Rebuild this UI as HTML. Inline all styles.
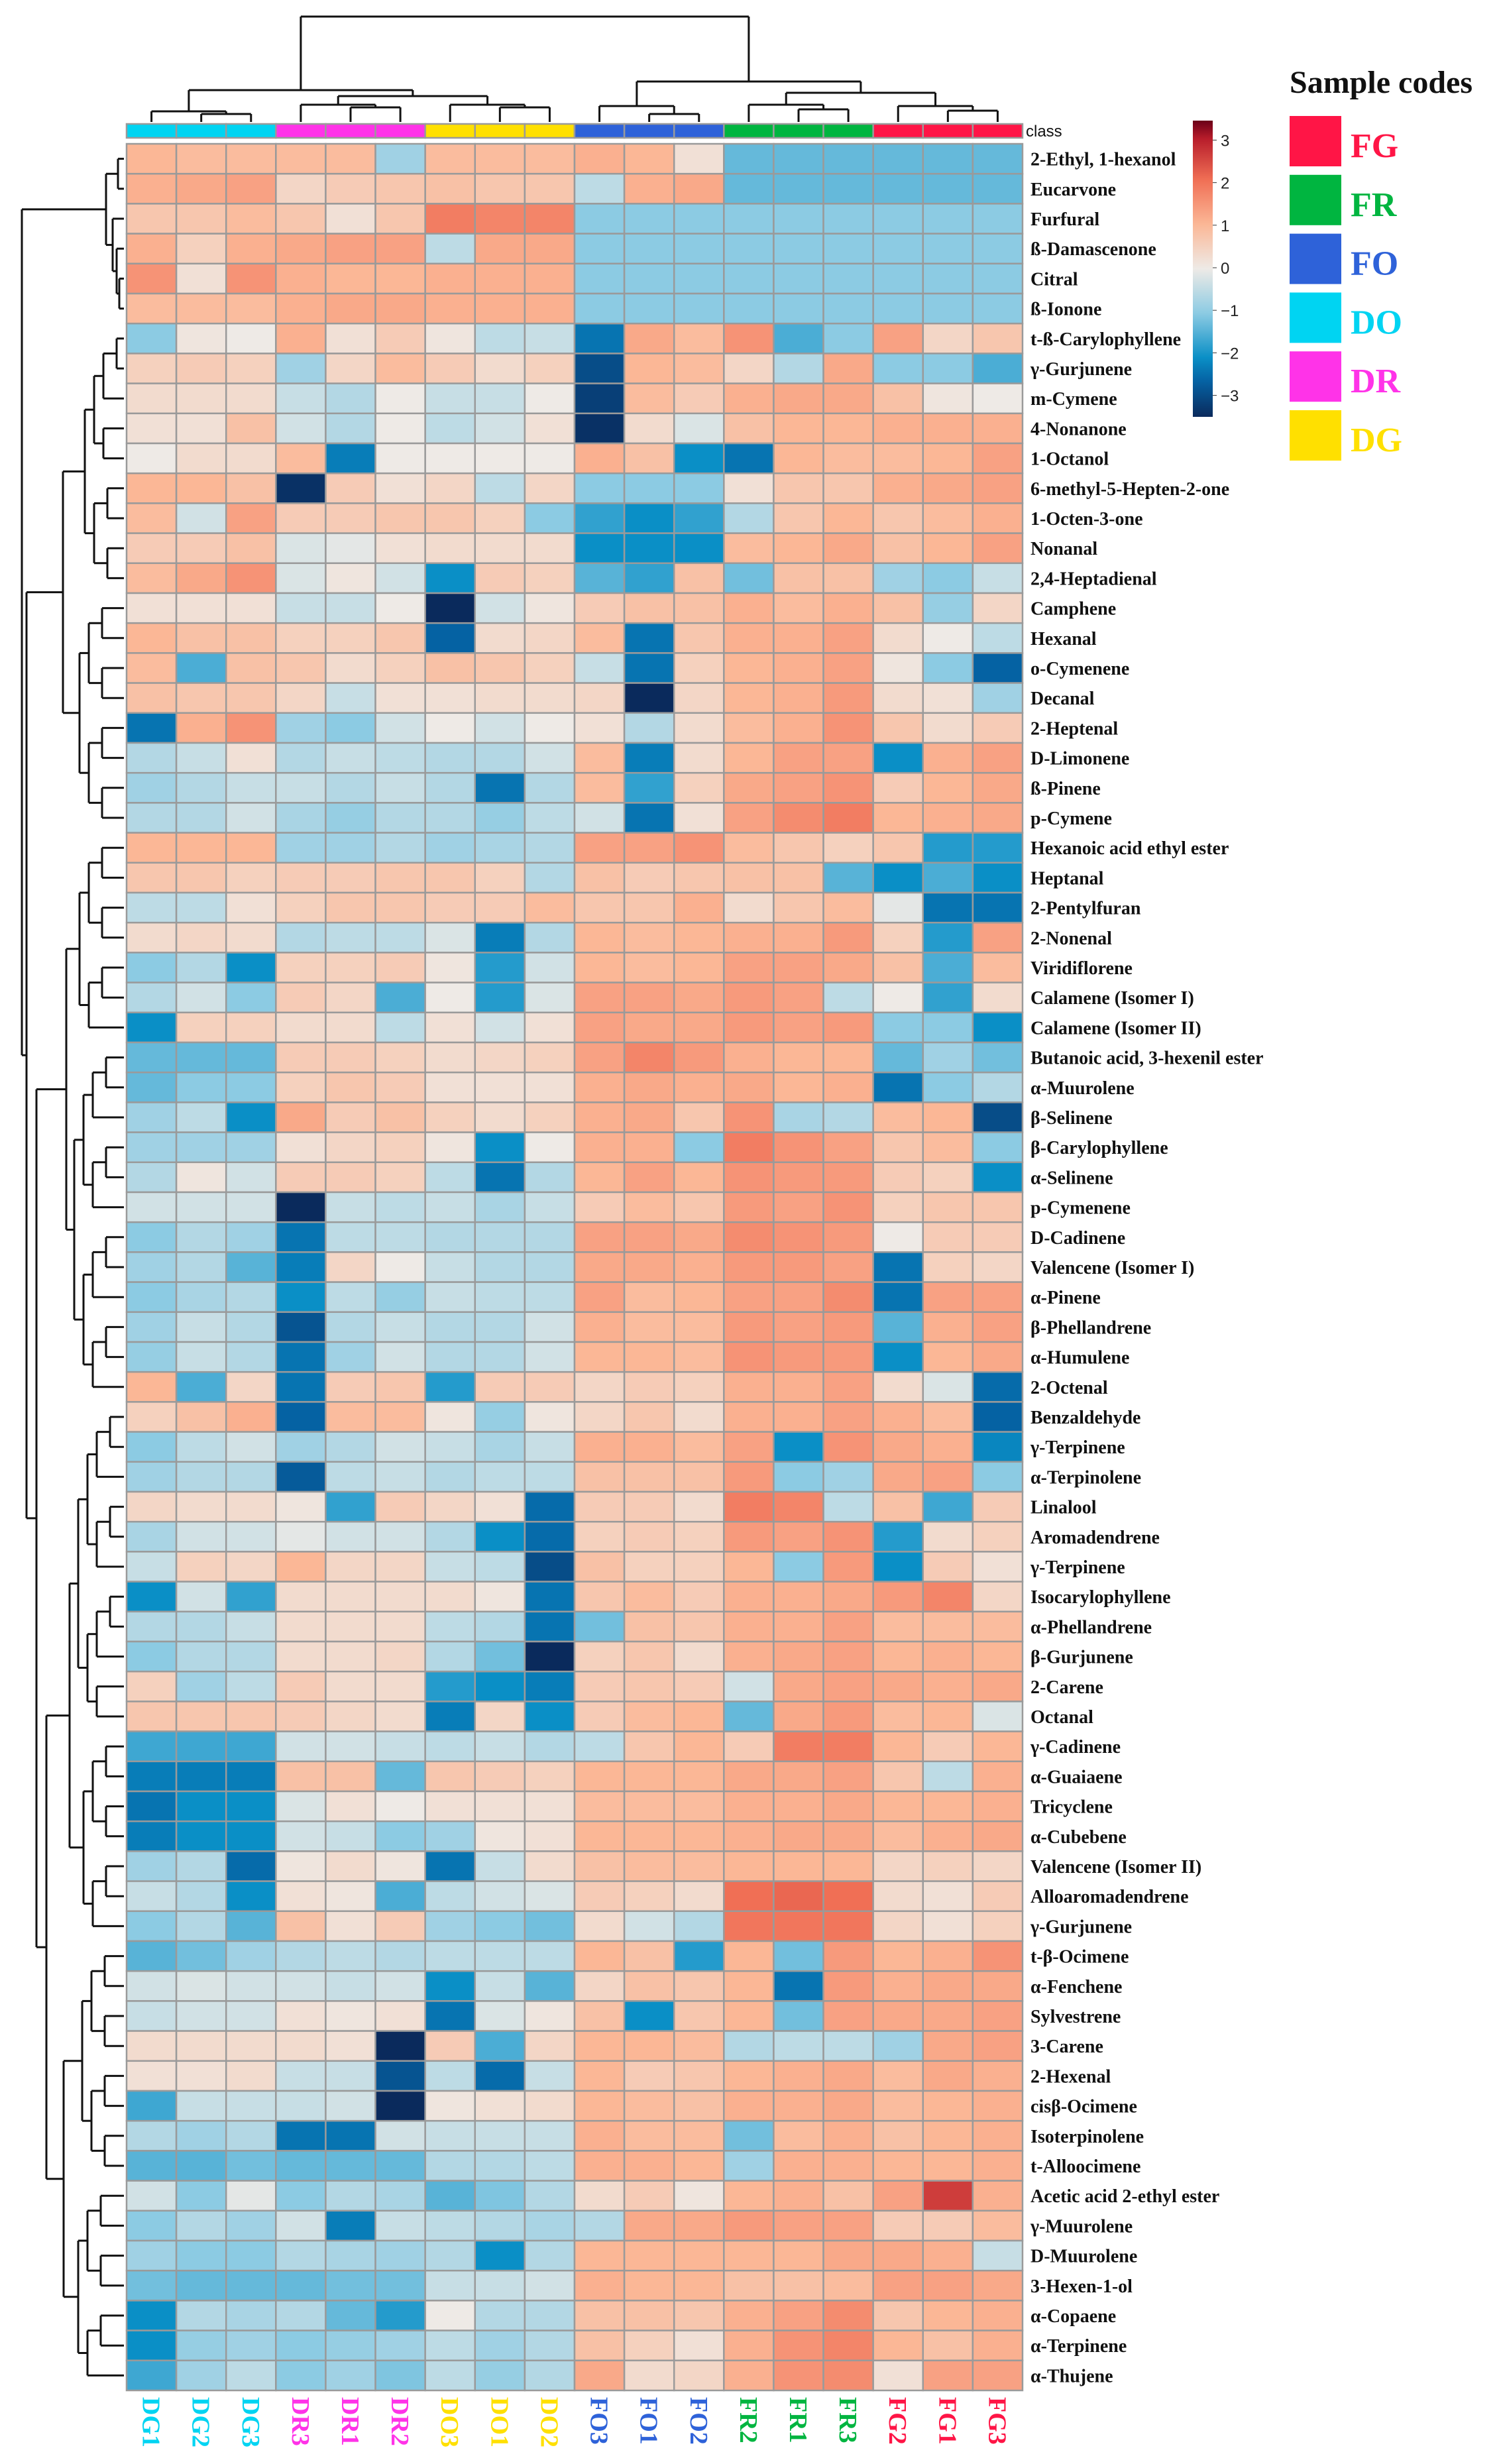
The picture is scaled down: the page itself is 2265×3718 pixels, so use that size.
<!DOCTYPE html>
<html><head><meta charset="utf-8">
<style>
html,body{margin:0;padding:0;background:#fff;}
svg{display:block;}
</style></head>
<body>
<svg id="chart" xmlns="http://www.w3.org/2000/svg" width="2265" height="3718" viewBox="0 0 2265 3718">
  <g id="coldendro"></g>
  <g id="rowdendro"></g>
  <g id="classbar"></g>
  <g id="cells"></g>
  <g id="rowlabels"></g>
  <g id="collabels"></g>
  <text x="1548" y="206" font-family="Liberation Sans, sans-serif" font-size="24" fill="#111">class</text>
  <defs>
    <linearGradient id="cbgrad" x1="0" y1="1" x2="0" y2="0">
      <stop offset="0" stop-color="#0a2a5c"/>
      <stop offset="0.12" stop-color="#0562a3"/>
      <stop offset="0.20" stop-color="#0a8fc6"/>
      <stop offset="0.35" stop-color="#8ccbe3"/>
      <stop offset="0.50" stop-color="#eeeae6"/>
      <stop offset="0.65" stop-color="#fbb796"/>
      <stop offset="0.80" stop-color="#f06f55"/>
      <stop offset="0.94" stop-color="#b71c2a"/>
      <stop offset="1" stop-color="#6b0018"/>
    </linearGradient>
  </defs>
  <g>
    <rect x="1800" y="182" width="30" height="447" fill="url(#cbgrad)"/>
    <g id="cbticks" font-family="Liberation Sans, sans-serif" font-size="24" fill="#222"></g>
  </g>
  <g font-family="Liberation Serif, serif" font-weight="bold">
    <text x="1946" y="140" font-size="48" fill="#111">Sample codes</text>
    <g id="legendentries"></g>
  </g>
</svg>
<script>
const NS = 'http://www.w3.org/2000/svg';
const columns = ['DG1','DG2','DG3','DR3','DR1','DR2','DO3','DO1','DO2','FO3','FO1','FO2','FR2','FR1','FR3','FG2','FG1','FG3'];
const columnGroups = ['DG','DG','DG','DR','DR','DR','DO','DO','DO','FO','FO','FO','FR','FR','FR','FG','FG','FG'];
const compounds = ['2-Ethyl, 1-hexanol','Eucarvone','Furfural','ß-Damascenone','Citral','ß-Ionone','t-ß-Carylophyllene','γ-Gurjunene','m-Cymene','4-Nonanone','1-Octanol','6-methyl-5-Hepten-2-one','1-Octen-3-one','Nonanal','2,4-Heptadienal','Camphene','Hexanal','o-Cymenene','Decanal','2-Heptenal','D-Limonene','ß-Pinene','p-Cymene','Hexanoic acid ethyl ester','Heptanal','2-Pentylfuran','2-Nonenal','Viridiflorene','Calamene (Isomer I)','Calamene (Isomer II)','Butanoic acid, 3-hexenil ester','α-Muurolene','β-Selinene','β-Carylophyllene','α-Selinene','p-Cymenene','D-Cadinene','Valencene (Isomer I)','α-Pinene','β-Phellandrene','α-Humulene','2-Octenal','Benzaldehyde','γ-Terpinene','α-Terpinolene','Linalool','Aromadendrene','γ-Terpinene','Isocarylophyllene','α-Phellandrene','β-Gurjunene','2-Carene','Octanal','γ-Cadinene','α-Guaiaene','Tricyclene','α-Cubebene','Valencene (Isomer II)','Alloaromadendrene','γ-Gurjunene','t-β-Ocimene','α-Fenchene','Sylvestrene','3-Carene','2-Hexenal','cisβ-Ocimene','Isoterpinolene','t-Alloocimene','Acetic acid 2-ethyl ester','γ-Muurolene','D-Muurolene','3-Hexen-1-ol','α-Copaene','α-Terpinene','α-Thujene'];
const zValues = [
[1.0,0.9,0.9,0.9,0.9,-0.8,0.9,0.9,0.9,1.1,1.0,0.2,-1.3,-1.3,-1.3,-1.3,-1.3,-1.3],
[1.1,1.2,1.3,0.4,0.6,0.7,0.8,0.7,0.7,-0.5,1.1,1.2,-1.3,-1.3,-1.3,-1.3,-1.3,-1.3],
[0.7,0.7,0.9,0.7,0.2,0.7,1.8,1.7,1.7,-1.0,-1.0,-1.0,-1.0,-1.0,-1.0,-1.0,-1.0,-1.0],
[1.1,0.5,1.1,1.2,1.3,1.3,-0.5,1.2,1.2,-1.0,-1.0,-1.0,-1.0,-1.0,-1.0,-1.0,-1.0,-1.0],
[1.5,0.2,1.5,1.1,1.0,1.0,1.1,1.1,1.1,-1.0,-1.0,-1.0,-1.0,-1.0,-1.0,-1.0,-1.0,-1.0],
[0.9,0.9,0.9,1.1,1.2,1.2,1.1,1.1,1.1,-1.0,-1.0,-1.0,-1.0,-1.0,-1.0,-1.0,-1.0,-1.0],
[-1.0,0.1,0.0,1.1,0.2,0.6,0.1,-0.5,-0.4,-2.3,1.2,0.9,1.5,-1.5,-1.0,1.3,0.4,0.7],
[0.5,0.6,0.5,-0.8,0.4,0.9,0.6,0.3,0.5,-2.8,1.0,0.9,0.4,-0.6,1.2,-1.0,-1.0,-1.5],
[0.3,0.3,0.3,-0.4,-0.6,0.0,-0.4,-0.4,0.0,-3.0,0.9,0.6,1.1,1.2,1.2,0.8,0.1,0.0],
[0.2,0.2,0.8,-0.3,-0.6,0.0,-0.5,-0.3,0.2,-3.2,0.3,-0.2,0.8,1.0,1.0,1.1,1.1,1.1],
[0.0,0.3,0.3,0.9,-2.2,0.0,0.0,0.0,0.0,1.1,0.8,-2.0,-2.3,1.0,0.9,0.9,1.0,1.3],
[1.0,1.0,0.8,-3.2,0.6,0.2,0.4,-0.5,0.4,-1.0,-1.0,-1.0,0.2,0.7,0.7,1.1,1.2,1.3],
[0.9,-0.3,1.3,0.6,0.6,0.7,0.7,0.5,-1.0,-1.7,-2.0,-1.7,-0.6,0.7,1.0,0.7,0.9,1.1],
[0.6,0.6,0.8,-0.2,-0.1,0.2,0.3,0.3,0.3,-2.0,-2.0,-2.0,0.9,1.0,1.2,0.8,1.0,1.3],
[0.9,1.2,1.5,-0.2,0.1,-0.3,-2.0,0.6,0.5,-1.4,-1.7,0.8,-1.2,0.8,0.8,-0.8,-1.0,-0.4],
[0.2,0.2,0.2,-0.4,-0.4,0.0,-3.3,-0.3,0.1,0.6,0.8,0.8,1.1,0.9,1.1,0.8,-0.9,0.4],
[1.0,0.8,0.8,0.5,0.5,0.7,-2.5,0.3,0.4,0.9,-2.3,0.7,1.1,1.1,1.3,0.3,0.0,-0.5],
[0.9,-1.5,0.8,0.7,0.3,0.5,0.8,0.7,0.5,-0.4,-2.3,0.5,1.0,1.1,1.3,0.1,-1.0,-2.5],
[0.8,0.7,0.7,0.4,-0.4,0.2,0.2,0.3,0.3,0.4,-3.3,0.4,1.0,1.1,1.4,0.3,0.2,-0.8],
[-2.3,1.1,1.5,-0.8,-1.0,-0.3,0.0,-0.3,0.0,0.2,-0.6,0.3,0.9,1.1,1.5,0.7,0.3,0.6],
[-0.6,-0.4,0.2,-0.6,-0.4,-0.5,-0.6,-0.6,-0.3,0.9,-2.2,0.3,1.0,1.3,1.3,-2.0,1.1,1.3],
[-0.8,-0.6,-0.4,-0.4,-0.6,-0.4,-0.6,-2.3,-0.6,0.9,-1.7,0.5,1.2,1.3,1.5,0.6,1.0,1.2],
[-0.6,-0.6,-0.3,-0.7,-0.9,-0.6,-0.6,-0.9,-0.5,-0.3,-2.3,0.2,1.3,1.6,1.8,1.0,1.1,1.2],
[1.0,1.0,1.0,-0.8,-0.8,-0.6,-0.8,-0.7,-0.6,1.3,1.3,1.5,0.9,0.7,0.5,0.7,-1.8,-1.8],
[0.7,0.7,0.5,0.6,0.6,0.7,0.7,0.5,-0.6,0.8,0.6,0.7,0.8,0.8,-1.4,-2.0,-1.5,-2.0],
[-0.5,-0.5,0.2,0.5,0.7,0.7,0.6,0.6,0.9,0.7,0.7,1.1,0.3,0.7,0.9,-0.1,-2.3,-2.3],
[0.3,0.4,0.3,-0.6,-0.5,-0.5,-0.2,-2.2,-0.6,1.0,0.9,1.0,1.1,1.1,1.4,0.5,-1.8,1.3],
[-1.0,-0.6,-2.0,0.5,0.5,0.6,0.1,-1.8,-0.3,1.0,0.9,1.0,1.3,1.3,1.2,0.8,-1.5,0.9],
[-0.6,-0.3,-1.0,0.6,0.4,-1.5,0.0,-1.8,-0.2,1.3,1.3,1.2,1.4,1.3,-0.5,0.0,-1.7,0.3],
[-2.0,0.5,0.5,0.3,0.3,-0.5,0.2,-0.3,0.2,1.3,1.2,1.2,1.4,1.3,1.4,-1.0,-1.0,-2.0],
[-1.3,-1.3,-1.3,0.6,0.6,0.5,0.3,0.4,0.5,1.3,1.7,1.4,1.1,1.0,1.0,-1.3,-0.8,-1.2],
[-1.3,-1.0,-1.0,0.5,0.7,0.6,0.2,0.2,0.2,1.1,1.2,1.1,1.2,1.0,1.1,-2.3,-1.0,-0.6],
[-0.8,-0.5,-2.0,1.2,0.6,0.8,0.5,0.3,0.5,1.1,1.2,0.7,1.5,-0.7,-0.6,0.9,1.0,-2.8],
[-0.8,-0.8,-0.8,0.2,0.4,0.5,0.1,-2.0,0.0,1.1,1.1,-1.0,1.8,1.5,1.3,0.7,0.9,-1.0],
[-0.6,0.1,-0.3,0.6,0.6,0.5,-0.5,-2.3,-0.6,1.0,1.3,1.0,1.5,1.4,1.4,0.6,0.5,-2.0],
[-0.3,-0.3,-0.3,-3.3,-0.4,-0.5,-0.4,-0.7,-0.4,0.6,0.9,0.7,1.4,1.3,1.5,0.5,0.7,0.7],
[-1.0,-0.6,-0.8,-2.3,-0.5,-0.5,-0.6,-0.6,-0.6,1.3,1.3,1.2,1.6,1.5,1.4,0.0,0.6,0.6],
[-0.8,-0.6,-1.4,-2.2,0.4,0.0,-0.4,-0.6,-0.6,1.2,1.2,1.1,1.4,1.4,1.3,-2.3,0.5,0.4],
[-1.0,-0.7,-0.6,-2.0,-0.5,-0.9,-0.4,-0.5,-0.5,1.3,0.9,1.0,1.3,1.3,1.6,-2.3,1.3,1.3],
[-0.8,-0.4,-0.6,-2.7,-0.6,-0.4,-0.6,-0.6,-0.3,1.1,0.9,0.9,1.4,1.3,1.4,-1.4,1.1,1.3],
[-0.9,-0.4,-0.6,-2.3,-0.8,-0.3,-0.6,-0.6,-0.3,1.0,1.0,0.9,1.5,1.4,1.4,-2.0,1.0,1.2],
[1.0,-1.5,0.4,-2.3,0.6,0.7,-1.8,0.6,0.6,0.4,0.6,0.5,1.1,1.1,1.3,0.3,-0.2,-2.4],
[0.5,0.8,1.1,-2.5,0.9,0.9,0.1,-0.9,0.1,0.4,0.7,0.3,1.1,1.1,1.3,1.1,0.9,-2.5],
[-1.0,-0.5,-0.3,-0.8,-0.6,-0.3,-0.4,-0.7,-0.4,1.1,1.1,0.9,1.3,-2.0,1.5,1.2,1.1,-2.1],
[-0.8,-0.6,-0.6,-2.6,-0.5,-0.4,-0.6,-0.5,-0.5,0.8,0.8,0.8,1.4,-1.0,-0.8,1.2,1.3,-1.0],
[0.4,0.3,0.3,0.1,-1.7,0.6,0.4,0.2,-2.4,0.6,0.6,0.3,1.8,1.7,-0.5,0.8,-1.6,0.6],
[-0.7,-0.3,-0.3,-0.1,-0.3,-0.3,-0.6,-2.0,-2.4,0.5,0.6,0.5,1.4,1.3,1.5,-1.8,0.3,0.5],
[-0.4,0.5,0.4,1.0,0.4,0.4,-0.4,-0.5,-2.8,0.8,0.5,0.5,1.0,-1.0,1.4,-2.0,0.6,0.2],
[-2.0,-0.3,-1.7,0.3,0.3,0.3,0.3,0.1,-2.3,0.7,0.9,0.6,1.1,1.1,1.2,1.4,1.7,0.4],
[-0.6,-0.6,-0.4,0.3,0.3,0.3,-0.5,-0.6,-2.3,-1.2,0.8,0.7,1.1,1.1,1.3,0.9,0.9,0.9],
[-1.0,-0.6,-0.6,0.3,0.3,0.4,-0.6,-1.2,-3.3,0.5,0.7,0.3,1.1,1.2,1.3,1.0,1.1,1.0],
[0.5,-0.8,-0.5,0.6,0.3,0.3,-1.8,-2.0,-2.2,0.6,0.7,0.6,-0.3,1.2,1.3,1.2,1.1,1.2],
[0.7,0.7,0.7,0.6,0.4,0.3,-2.2,0.4,-2.0,0.6,0.9,1.0,-1.3,1.2,1.4,0.9,1.0,-0.2],
[-1.6,-1.6,-1.6,-0.3,-0.3,-0.4,-0.5,-0.4,-0.6,-0.5,0.7,1.0,0.6,1.8,1.8,1.0,0.6,1.0],
[-2.2,-2.2,-2.2,0.8,0.8,-1.3,0.7,0.6,0.5,1.0,1.0,1.0,1.2,1.2,1.3,0.7,-0.5,1.1],
[-2.3,-2.0,-2.0,-0.2,0.2,0.0,0.2,0.2,0.2,0.9,0.9,0.9,1.1,1.1,1.2,1.0,1.0,1.1],
[-2.2,-2.0,-2.0,-0.3,-0.4,-1.0,-0.8,0.1,0.2,1.0,1.0,1.0,1.1,1.2,1.2,0.9,1.1,1.2],
[-0.8,-0.6,-2.4,0.1,0.3,0.1,-2.3,-0.4,0.3,0.8,0.9,0.9,1.0,1.0,1.0,0.4,0.5,0.4],
[-0.4,-0.6,-2.0,0.2,0.1,-1.5,-0.5,-0.3,-0.2,0.6,0.5,0.3,2.0,2.1,2.0,0.3,0.2,0.6],
[-1.0,-0.6,-1.4,0.8,0.2,0.6,-0.8,-1.0,-1.2,0.3,-0.3,-0.6,1.9,1.9,1.9,0.4,0.2,0.5],
[-1.4,-1.2,-0.8,-0.6,-0.5,-0.6,-0.5,-0.5,-0.5,1.0,0.8,-1.8,1.0,-1.2,1.4,1.0,1.1,1.5],
[-0.3,-0.2,-0.3,-0.3,-0.4,-0.3,-2.0,-0.4,-1.4,0.4,0.8,0.7,1.0,-2.3,1.4,1.1,1.2,1.2],
[-0.4,-0.3,-0.3,0.2,0.1,0.2,-2.3,-0.2,0.1,0.8,-2.0,0.7,1.0,-1.2,1.3,1.2,1.2,1.3],
[0.3,0.3,0.3,0.3,0.2,-3.3,0.6,-1.5,0.4,1.0,1.0,0.9,-0.6,-0.5,-0.5,-0.8,1.2,1.3],
[0.2,0.2,0.3,-0.4,-0.4,-2.7,-0.5,-2.4,-0.4,1.0,0.6,0.7,1.0,1.1,1.2,0.9,1.2,1.1],
[-1.6,-0.4,-0.4,-0.4,-0.3,-3.3,0.1,0.2,0.3,1.0,0.9,0.8,1.1,1.1,1.2,0.9,1.0,1.1],
[-0.6,-0.8,-0.6,-2.3,-2.3,-0.3,-0.4,-0.4,-0.4,1.1,0.9,0.9,-1.2,0.9,1.1,0.8,1.0,1.1],
[-1.4,-1.4,-1.2,-1.3,-1.3,-1.3,-0.6,-0.6,-0.5,1.1,1.1,1.0,-0.8,1.1,1.1,1.0,1.0,1.1],
[-0.3,-1.0,-0.1,-1.0,-0.6,-0.7,-1.4,-1.1,-0.6,0.3,0.6,0.1,1.0,1.1,0.8,1.3,2.6,1.1],
[-1.0,-0.6,-0.8,-0.3,-2.2,-0.4,-0.5,-0.6,-0.7,-0.6,1.2,1.2,1.4,1.3,1.3,0.6,0.6,0.9],
[-0.8,-1.0,-1.0,-0.6,-0.7,-0.8,-0.6,-2.0,-0.6,1.0,1.0,1.0,1.0,1.0,1.2,1.2,1.1,-0.4],
[-1.2,-1.3,-1.3,-1.3,-1.2,-1.2,-0.4,-0.4,-0.3,1.1,1.0,1.0,0.8,0.8,0.9,1.3,1.3,1.2],
[-2.0,-0.6,-0.7,-0.6,-1.3,-1.8,0.0,-0.6,-0.6,0.8,0.8,0.7,1.1,1.3,1.6,0.7,1.0,1.1],
[-2.0,-0.9,-0.8,-1.0,-0.9,-0.8,-0.5,-0.8,-0.6,0.8,0.5,0.2,1.1,1.5,1.7,1.0,0.8,1.1],
[-1.6,-0.8,-0.5,-1.0,-0.8,-1.1,-0.5,-0.9,-0.6,1.2,0.3,0.4,1.1,1.5,1.6,0.2,1.3,1.3]
];
const colorTicks = [3,2,1,0,-1,-2,-3];
const legendCodes = ['FG','FR','FO','DO','DR','DG'];

const groupColor = {DG:'#00D4F2',DR:'#FF33E8',DO:'#FFE000',FO:'#2E62D9',FR:'#00B540',FG:'#FF1546'};
const legendColor = {FG:'#FF1546',FR:'#00B540',FO:'#2E62D9',DO:'#00D4F2',DR:'#FF33E8',DG:'#FFE000'};

const X0 = 191, X1 = 1543, Y0 = 217, Y1 = 3607;
const nC = columns.length, nR = compounds.length;
const cw = (X1 - X0) / nC, rh = (Y1 - Y0) / nR;
function xCol(i){ return X0 + i*cw; }
function yRow(j){ return Y0 + j*rh; }

const stops = [[-3.3,[10,42,92]],[-2.5,[5,98,163]],[-2,[10,143,198]],[-1,[140,203,227]],[0,[238,234,230]],[1,[251,183,150]],[2,[240,111,85]],[3,[183,28,42]],[3.3,[107,0,24]]];
function colorOf(v){
  v = Math.max(-3.3, Math.min(3.3, v));
  for (let k=0;k<stops.length-1;k++){
    const a=stops[k], b=stops[k+1];
    if (v>=a[0] && v<=b[0]){
      const t=(v-a[0])/(b[0]-a[0]);
      const c=a[1].map((x,i)=>Math.round(x+(b[1][i]-x)*t));
      return 'rgb('+c.join(',')+')';
    }
  }
  return '#eee';
}
function mk(tag, parent){ const e=document.createElementNS(NS,tag); parent.appendChild(e); return e; }

const cells = document.getElementById('cells');
for (let j=0;j<nR;j++){
  for (let i=0;i<nC;i++){
    const r = mk('rect', cells);
    r.setAttribute('x', xCol(i)); r.setAttribute('y', yRow(j));
    r.setAttribute('width', cw); r.setAttribute('height', rh);
    r.setAttribute('fill', colorOf(zValues[j][i]));
    r.setAttribute('stroke', '#9a9a9a'); r.setAttribute('stroke-width', '2.5');
    
    
  }
}
const cb = document.getElementById('classbar');
for (let i=0;i<nC;i++){
  const r = mk('rect', cb);
  r.setAttribute('x', xCol(i)); r.setAttribute('y', 187);
  r.setAttribute('width', cw); r.setAttribute('height', 21);
  r.setAttribute('fill', groupColor[columnGroups[i]]);
  r.setAttribute('stroke', '#9a9a9a'); r.setAttribute('stroke-width', '2.5');
  
  
}
const rl = document.getElementById('rowlabels');
for (let j=0;j<nR;j++){
  const t = mk('text', rl);
  t.setAttribute('x', 1555); t.setAttribute('y', yRow(j)+rh/2+10);
  t.setAttribute('font-family', 'Liberation Serif, serif');
  t.setAttribute('font-weight', 'bold'); t.setAttribute('font-size', '28');
  t.setAttribute('fill', '#111');
  t.textContent = compounds[j];
  
  
}
const cl = document.getElementById('collabels');
for (let i=0;i<nC;i++){
  const cx = xCol(i)+cw/2, y = 3617;
  const t = mk('text', cl);
  t.setAttribute('x', 0); t.setAttribute('y', 0);
  t.setAttribute('transform', 'translate(' + (cx-13) + ',' + y + ') rotate(90)');
  t.setAttribute('font-family', 'Liberation Serif, serif');
  t.setAttribute('font-size', '38'); t.setAttribute('font-weight', 'bold');
  t.setAttribute('fill', groupColor[columnGroups[i]]);
  t.textContent = columns[i];
  
  
}
const ct = document.getElementById('cbticks');
function yScale(v){ return 404 - v*64.2; }
for (const v of colorTicks){
  const y = yScale(v);
  const l = mk('line', ct);
  l.setAttribute('x1', 1830); l.setAttribute('x2', 1836); l.setAttribute('y1', y); l.setAttribute('y2', y);
  l.setAttribute('stroke', '#333');
  
  
  const t = mk('text', ct);
  t.setAttribute('x', 1842); t.setAttribute('y', y+9);
  t.textContent = v < 0 ? '\u2212' + Math.abs(v) : String(v);
  
  
}
const le = document.getElementById('legendentries');
legendCodes.forEach((c, k) => {
  const y = 175 + k*88.8;
  const r = mk('rect', le);
  r.setAttribute('x', 1946); r.setAttribute('y', y); r.setAttribute('width', 78); r.setAttribute('height', 76);
  r.setAttribute('fill', legendColor[c]);
  
  
  const t = mk('text', le);
  t.setAttribute('x', 2038); t.setAttribute('y', y+62); t.setAttribute('font-size', '52');
  t.setAttribute('fill', legendColor[c]); t.textContent = c;
  
  
});

function line(g, x1,y1,x2,y2){
  const l = mk('line', g);
  l.setAttribute('x1',x1); l.setAttribute('y1',y1); l.setAttribute('x2',x2); l.setAttribute('y2',y2);
  l.setAttribute('stroke','#111'); l.setAttribute('stroke-width','3');
  
  
}
const cd = document.getElementById('coldendro');
const colTree = {h:25, l:{h:136, l:{h:168,l:0,r:{h:172,l:1,r:2}}, r:{h:145, l:{h:158,l:3,r:{h:162,l:4,r:5}}, r:{h:158,l:6,r:{h:162,l:7,r:8}}}},
  r:{h:123, l:{h:160,l:9,r:{h:172,l:10,r:11}}, r:{h:140, l:{h:158,l:12,r:{h:165,l:13,r:14}}, r:{h:160,l:15,r:{h:167,l:16,r:17}}}}};
function drawCol(n){
  if (typeof n === 'number') return {x: xCol(n)+cw/2, y: 184};
  const a = drawCol(n.l), b = drawCol(n.r);
  line(cd, a.x, a.y, a.x, n.h); line(cd, b.x, b.y, b.x, n.h); line(cd, a.x, n.h, b.x, n.h);
  return {x:(a.x+b.x)/2, y:n.h};
}
drawCol(colTree);
const rd = document.getElementById('rowdendro');
function buildRange(lo, hi, x){
  if (lo === hi) return lo;
  const mid = Math.floor((lo+hi)/2);
  const nx = Math.min(183, x + 14 + (hi-lo < 4 ? 6 : 0));
  return {h:x, l:buildRange(lo, mid, nx), r:buildRange(mid+1, hi, nx)};
}
const rowTree = {h:33, l:{h:160, l:{h:178,l:0,r:1}, r:{h:170,l:2,r:{h:176,l:3,r:{h:180,l:4,r:5}}}},
  r:{h:40, l:{h:95, l:buildRange(6,14,128), r:buildRange(15,22,120)},
    r:{h:55, l:{h:100, l:buildRange(23,29,120), r:buildRange(30,41,112)},
      r:{h:70, l:{h:105, l:buildRange(42,52,118), r:buildRange(53,59,126)}, r:{h:96, l:buildRange(60,67,124), r:buildRange(68,74,118)}}}}};
function drawRow(n){
  if (typeof n === 'number') return {y: yRow(n)+rh/2, x: 187};
  const a = drawRow(n.l), b = drawRow(n.r);
  line(rd, a.x, a.y, n.h, a.y); line(rd, b.x, b.y, n.h, b.y); line(rd, n.h, a.y, n.h, b.y);
  return {y:(a.y+b.y)/2, x:n.h};
}
drawRow(rowTree);
</script>
</body></html>
